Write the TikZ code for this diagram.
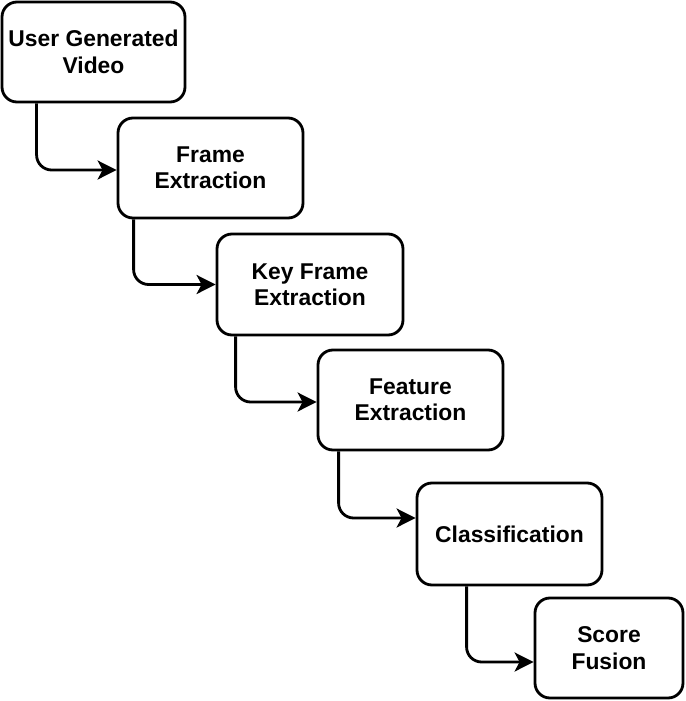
\documentclass[tikz,border=0pt]{standalone}
\usepackage{fontspec}
\setmainfont{Liberation Sans}
\usepackage{tikz}
\usetikzlibrary{arrows.meta,calc,positioning}
\tikzset{%
	block/.style    = {draw, rectangle, rounded corners = 0.3cm, line width = 1.6pt, minimum height = 2cm, minimum width = 3.7cm, align = center, font = \fontsize{13}{15}\selectfont\bfseries}, % Stage
	link/.style     = {-{Stealth[length=0.38cm, width=0.38cm, inset=0.1cm]}, line width = 1.6pt, rounded corners = 0.3cm}, % Connector
}

\begin{document}
\begin{tikzpicture}
	\useasboundingbox (0,0) rectangle (13.7,-14.02);
	\node[block, minimum width = 3.66cm] (ugv) at (1.87,-1.04) {User Generated\\Video};
	\node[block] (fe) at (4.21,-3.36) {Frame\\Extraction};
	\node[block, minimum width = 3.72cm, minimum height = 2.02cm] (kfe) at (6.20,-5.69) {Key Frame\\Extraction};
	\node[block] (feat) at (8.21,-8.0) {Feature\\Extraction};
	\node[block, minimum height = 2.04cm] (cls) at (10.19,-10.68) {Classification};
	\node[block, minimum width = 2.96cm] (sf) at (12.18,-12.96) {Score\\Fusion};
	% steps
	\draw[link] ([xshift=0.72cm]ugv.south west) |- ([yshift=-0.04cm]fe.west);
	\draw[link] ([xshift=0.34cm]fe.south west) |- (kfe.west);
	\draw[link] ([xshift=0.40cm]kfe.south west) |- ([yshift=-0.04cm]feat.west);
	\draw[link] ([xshift=0.44cm]feat.south west) |- ([yshift=0.32cm]cls.west);
	\draw[link] ([xshift=1.02cm]cls.south west) |- ([yshift=-0.28cm]sf.west);
\end{tikzpicture}
\end{document}
